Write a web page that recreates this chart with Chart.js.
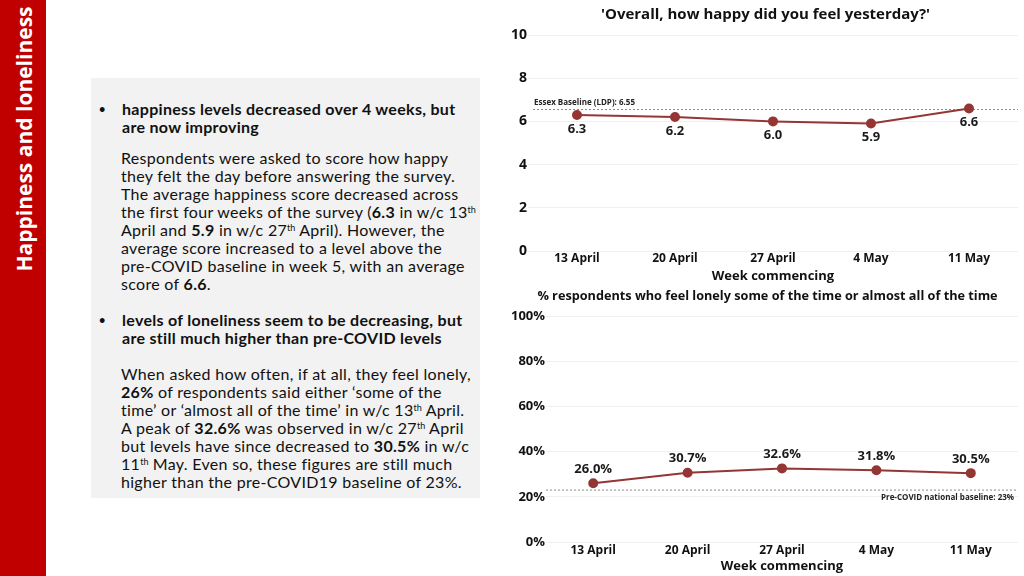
<!DOCTYPE html>
<html>
<head>
<meta charset="utf-8">
<script src="https://cdn.jsdelivr.net/npm/chart.js@4"></script>
<style>
  html, body { margin: 0; padding: 0; background: #fff; }
  body { width: 1024px; height: 576px; position: relative; overflow: hidden; font-family: "Lato", "Open Sans", sans-serif; color: #111; }
  #sidebar { position: absolute; left: 0; top: 0; width: 46px; height: 576px; background: #c00000; }
  #sidebar span { position: absolute; left: 24px; top: 139px; transform: translate(-50%, -50%) rotate(-90deg); white-space: nowrap; color: #fff; font: bold 21px "Open Sans", sans-serif; }
  #panel { position: absolute; left: 91px; top: 78px; width: 389px; height: 420px; background: #f2f2f2; }
  .bullet { position: absolute; left: 8px; font-weight: bold; font-size: 11px; line-height: 18px; }
  .head { position: absolute; left: 31px; font-weight: bold; font-size: 16px; letter-spacing: 0.3px; line-height: 18px; white-space: nowrap; }
  .body { position: absolute; left: 30px; font-size: 16px; letter-spacing: 0.3px; line-height: 18px; white-space: nowrap; }
  sup { font-size: 9px; line-height: 0; vertical-align: 5px; letter-spacing: 0; }
  #happy { position: absolute; left: 490px; top: 0; width: 534px; height: 288px; }
  #lonely { position: absolute; left: 490px; top: 288px; width: 534px; height: 288px; }
</style>
</head>
<body>
<div id="sidebar"><span>Happiness and loneliness</span></div>
<div id="panel">
  <div class="bullet" style="top:22px">•</div>
  <div class="head" style="top:22px">happiness levels decreased over 4 weeks, but<br>are now improving</div>
  <div class="body" style="top:71px">Respondents were asked to score how happy<br>they felt the day before answering the survey.<br>The average happiness score decreased across<br>the first four weeks of the survey (<b>6.3</b> in w/c 13<sup>th</sup><br>April and <b>5.9</b> in w/c 27<sup>th</sup> April). However, the<br>average score increased to a level above the<br>pre-COVID baseline in week 5, with an average<br>score of <b>6.6</b>.</div>
  <div class="bullet" style="top:233px">•</div>
  <div class="head" style="top:233px">levels of loneliness seem to be decreasing, but<br>are still much higher than pre-COVID levels</div>
  <div class="body" style="top:287px">When asked how often, if at all, they feel lonely,<br><b>26%</b> of respondents said either ‘some of the<br>time’ or ‘almost all of the time’ in w/c 13<sup>th</sup> April.<br>A peak of <b>32.6%</b> was observed in w/c 27<sup>th</sup> April<br>but levels have since decreased to <b>30.5%</b> in w/c<br>11<sup>th</sup> May. Even so, these figures are still much<br>higher than the pre-COVID19 baseline of 23%.</div>
</div>
<div id="happy"><canvas id="happyChart"></canvas></div>
<div id="lonely"><canvas id="lonelyChart"></canvas></div>
<script>
const weeks = ['13 April', '20 April', '27 April', '4 May', '11 May'];
const happinessScores = [6.3, 6.2, 6.0, 5.9, 6.6];
const lonelyPercent = [26.0, 30.7, 32.6, 31.8, 30.5];
const happyTicks = [0, 2, 4, 6, 8, 10];
const lonelyTicks = [0, 20, 40, 60, 80, 100];
const happyBaseline = 6.55;
const lonelyBaseline = 23;

const lineColor = '#943634';
const chartFont = '"Open Sans", sans-serif';

// value labels next to each point
const pointLabels = {
  id: 'pointLabels',
  afterDatasetsDraw(chart, args, opts) {
    const ctx = chart.ctx;
    const meta = chart.getDatasetMeta(0);
    const values = chart.data.datasets[0].data;
    ctx.save();
    ctx.font = 'bold 13px ' + chartFont;
    ctx.fillStyle = '#1a1a1a';
    ctx.textAlign = 'center';
    ctx.textBaseline = 'middle';
    meta.data.forEach((pt, i) => {
      ctx.fillText(opts.format(values[i]), pt.x, pt.y + opts.offset);
    });
    ctx.restore();
  }
};

// dotted baseline with a small caption
const baseline = {
  id: 'baseline',
  beforeDatasetsDraw(chart, args, opts) {
    const ctx = chart.ctx;
    const area = chart.chartArea;
    const y = chart.scales.y.getPixelForValue(opts.value);
    ctx.save();
    ctx.strokeStyle = '#8a8a8a';
    ctx.lineWidth = 1;
    ctx.setLineDash([2, 2]);
    ctx.beginPath();
    ctx.moveTo(area.left + opts.inset, y);
    ctx.lineTo(area.right, y);
    ctx.stroke();
    ctx.setLineDash([]);
    ctx.font = 'bold 8px ' + chartFont;
    ctx.fillStyle = '#222';
    ctx.textBaseline = 'middle';
    if (opts.align === 'left') {
      ctx.textAlign = 'left';
      ctx.fillText(opts.text, area.left + opts.inset + 1, y - 7);
    } else {
      ctx.textAlign = 'right';
      ctx.fillText(opts.text, area.right - 4, y + 8);
    }
    ctx.restore();
  }
};

function makeChart(id, values, ticks, opts) {
  return new Chart(document.getElementById(id), {
    type: 'line',
    data: {
      labels: weeks,
      datasets: [{
        data: values,
        borderColor: lineColor,
        backgroundColor: lineColor,
        borderWidth: 2,
        pointRadius: 4,
        pointHoverRadius: 4,
        tension: 0
      }]
    },
    plugins: [pointLabels, baseline],
    options: {
      responsive: true,
      maintainAspectRatio: false,
      animation: false,
      layout: { padding: opts.padding },
      plugins: {
        legend: { display: false },
        tooltip: { enabled: false },
        title: {
          display: true,
          text: opts.title,
          color: '#111',
          font: { family: chartFont, size: opts.titleSize, weight: 'bold' },
          padding: opts.titlePadding
        },
        pointLabels: { offset: opts.labelOffset, format: opts.format },
        baseline: { value: opts.baseline, text: opts.baselineText, align: opts.baselineAlign, inset: opts.inset }
      },
      scales: {
        x: {
          offset: true,
          grid: { display: false, drawTicks: false },
          border: { display: false },
          ticks: { color: '#111', font: { family: chartFont, size: 12, weight: 'bold' }, padding: opts.xPadding },
          title: {
            display: true,
            text: 'Week commencing',
            color: '#111',
            font: { family: chartFont, size: 13, weight: 'bold' },
            padding: { top: opts.xTitleGap, bottom: 0 }
          }
        },
        y: {
          min: ticks[0],
          max: ticks[ticks.length - 1],
          afterBuildTicks: (axis) => { axis.ticks = ticks.map(v => ({ value: v })); },
          afterFit: (axis) => { axis.width = opts.axisWidth; },
          grid: { color: '#efefef', drawTicks: false },
          border: { display: false },
          ticks: {
            color: '#111',
            padding: opts.tickPadding,
            font: { family: chartFont, size: opts.tickSize, weight: 'bold' },
            callback: opts.tickFormat
          }
        }
      }
    }
  });
}

makeChart('happyChart', happinessScores, happyTicks, {
  title: "'Overall, how happy did you feel yesterday?'",
  titleSize: 15,
  titlePadding: { top: 6, bottom: 11 },
  padding: { left: 18, right: 1, top: 0, bottom: 4 },
  axisWidth: 20,
  tickPadding: 1,
  xPadding: 0,
  xTitleGap: 3,
  tickSize: 14,
  tickFormat: v => String(v),
  labelOffset: 14,
  format: v => v.toFixed(1),
  baseline: happyBaseline,
  baselineText: 'Essex Baseline (LDP): 6.55',
  baselineAlign: 'left',
  inset: 5
});

makeChart('lonelyChart', lonelyPercent, lonelyTicks, {
  title: '% respondents who feel lonely some of the time or almost all of the time',
  titleSize: 12.7,
  titlePadding: { top: 1, bottom: 12 },
  padding: { left: 22, right: 1, top: 0, bottom: 2 },
  axisWidth: 34,
  tickPadding: 1,
  xPadding: 1,
  xTitleGap: 0,
  tickSize: 13,
  tickFormat: v => v + '%',
  labelOffset: -14,
  format: v => v.toFixed(1) + '%',
  baseline: lonelyBaseline,
  baselineText: 'Pre-COVID national baseline: 23%',
  baselineAlign: 'right',
  inset: 0
});
</script>
</body>
</html>
